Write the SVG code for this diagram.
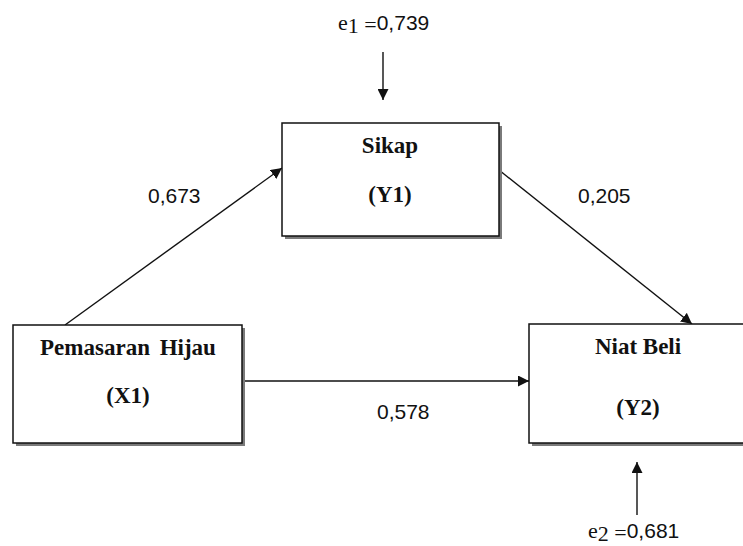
<svg xmlns="http://www.w3.org/2000/svg" width="743" height="546" viewBox="0 0 743 546">
<style>
.box{fill:#fff;stroke:#111;stroke-width:1.5}
.shadow{fill:#7a7a7a}
.lbl{font-family:"Liberation Serif","Times New Roman",serif;font-weight:bold;font-size:23px;fill:#111;text-anchor:middle}
.num{font-family:"Liberation Sans",Arial,sans-serif;font-size:21px;fill:#111}
.ser{font-family:"Liberation Serif","Times New Roman",serif;font-size:22px;fill:#111}
.ln{stroke:#111;stroke-width:1.4;fill:none}
</style>
<defs>
<marker id="ah" viewBox="0 0 10 10" refX="10" refY="5" markerWidth="11" markerHeight="11" markerUnits="userSpaceOnUse" orient="auto">
<path d="M0,0 L10,5 L0,10 z" fill="#111"/>
</marker>
</defs>
<g id="connectors">
<line class="ln" x1="383" y1="52" x2="383" y2="100" marker-end="url(#ah)"/>
<line class="ln" x1="637" y1="515" x2="637" y2="462" marker-end="url(#ah)"/>
<line class="ln" x1="65" y1="325" x2="282" y2="168" marker-end="url(#ah)"/>
<line class="ln" x1="499" y1="170" x2="692" y2="324" marker-end="url(#ah)"/>
<line class="ln" x1="242" y1="381" x2="529" y2="381" marker-end="url(#ah)"/>
<text class="num" x="148" y="203">0,673</text>
<text class="num" x="578" y="203">0,205</text>
<text class="num" x="377" y="419">0,578</text>
</g>
<g id="e1">
<text x="338" y="30"><tspan class="ser">e</tspan><tspan class="ser" font-size="13" dy="3">1</tspan><tspan class="ser" font-size="16" dy="-1"> =</tspan><tspan class="num" dy="-2">0,739</tspan></text>
</g>
<g id="e2">
<text x="588" y="538"><tspan class="ser">e</tspan><tspan class="ser" font-size="13" dy="3">2</tspan><tspan class="ser" font-size="16" dy="-1"> =</tspan><tspan class="num" dy="-2">0,681</tspan></text>
</g>
<g id="sikap">
<rect class="shadow" x="285" y="126" width="217" height="113"/>
<rect class="box" x="282" y="123" width="217" height="113"/>
<text class="lbl" x="390" y="153">Sikap</text>
<text class="lbl" x="390" y="202">(Y1)</text>
</g>
<g id="pemasaran">
<rect class="shadow" x="16" y="328" width="229" height="118"/>
<rect class="box" x="13" y="325" width="229" height="118"/>
<text class="lbl" x="128" y="355" word-spacing="4">Pemasaran Hijau</text>
<text class="lbl" x="128" y="403">(X1)</text>
</g>
<g id="niat">
<rect class="shadow" x="532" y="327" width="230" height="119"/>
<rect class="box" x="529" y="324" width="230" height="119"/>
<text class="lbl" x="638" y="354">Niat Beli</text>
<text class="lbl" x="638" y="415">(Y2)</text>
</g>
</svg>
